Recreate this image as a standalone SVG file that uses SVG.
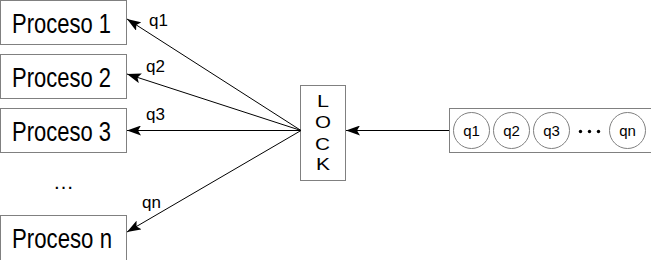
<svg xmlns="http://www.w3.org/2000/svg" width="651" height="260" viewBox="0 0 651 260">
  <style>
    .box { fill: #ffffff; stroke: #808080; stroke-width: 1; }
    .proc { font-family: "Liberation Sans", Arial, sans-serif; font-size: 28px; fill: #000; }
    .lbl { font-family: "Liberation Sans", Arial, sans-serif; font-size: 17px; fill: #000; }
    .dots { font-family: "Liberation Sans", Arial, sans-serif; font-size: 21px; fill: #000; }
    .lock { font-family: "Liberation Sans", Arial, sans-serif; font-size: 17px; fill: #000; }
    .qtxt { font-family: "Liberation Sans", Arial, sans-serif; font-size: 15px; fill: #000; text-anchor: middle; }
    .item { fill: #ffffff; stroke: #808080; stroke-width: 1; }
    .edge { stroke: #000; stroke-width: 1; fill: none; marker-end: url(#arrow); }
  </style>
  <defs>
    <marker id="arrow" viewBox="0 0 14 10" refX="14" refY="5" markerWidth="14" markerHeight="10" markerUnits="userSpaceOnUse" orient="auto">
      <path d="M0,0 L14,5 L0,10 L3,5 z" fill="#000"/>
    </marker>
  </defs>

  <!-- process boxes -->
  <g id="proceso1">
    <rect class="box" x="0.5" y="0.5" width="126" height="44"/>
    <text class="proc" x="12" y="33" textLength="99" lengthAdjust="spacingAndGlyphs">Proceso 1</text>
  </g>
  <g id="proceso2">
    <rect class="box" x="0.5" y="54.5" width="126" height="44"/>
    <text class="proc" x="12" y="87" textLength="99" lengthAdjust="spacingAndGlyphs">Proceso 2</text>
  </g>
  <g id="proceso3">
    <rect class="box" x="0.5" y="108.5" width="126" height="44"/>
    <text class="proc" x="12" y="141" textLength="99" lengthAdjust="spacingAndGlyphs">Proceso 3</text>
  </g>
  <g id="ellipsis">
    <text class="dots" x="53" y="189" textLength="21" lengthAdjust="spacingAndGlyphs">…</text>
  </g>
  <g id="proceson">
    <rect class="box" x="0.5" y="215.5" width="126" height="48"/>
    <text class="proc" x="12" y="248" textLength="100" lengthAdjust="spacingAndGlyphs">Proceso n</text>
  </g>

  <!-- lock -->
  <g id="lock">
    <rect class="box" x="300.5" y="85.5" width="45" height="95"/>
    <text class="lock" x="317" y="107" textLength="12" lengthAdjust="spacingAndGlyphs">L</text>
    <text class="lock" x="315" y="128" textLength="16" lengthAdjust="spacingAndGlyphs">O</text>
    <text class="lock" x="315" y="150" textLength="15" lengthAdjust="spacingAndGlyphs">C</text>
    <text class="lock" x="316" y="170" textLength="14" lengthAdjust="spacingAndGlyphs">K</text>
  </g>

  <!-- queue -->
  <g id="queue">
    <rect class="box" x="449.5" y="108.5" width="220" height="44"/>
    <circle class="item" cx="471.5" cy="130.5" r="18"/>
    <text class="qtxt" x="471.5" y="136">q1</text>
    <circle class="item" cx="511.5" cy="130.5" r="18"/>
    <text class="qtxt" x="511.5" y="136">q2</text>
    <circle class="item" cx="551.5" cy="130.5" r="18"/>
    <text class="qtxt" x="551.5" y="136">q3</text>
    <circle cx="580.5" cy="131.5" r="1.7" fill="#000"/>
    <circle cx="589.5" cy="131.5" r="1.7" fill="#000"/>
    <circle cx="598.5" cy="131.5" r="1.7" fill="#000"/>
    <circle class="item" cx="627.5" cy="130.5" r="18"/>
    <text class="qtxt" x="627.5" y="136">qn</text>
  </g>

  <!-- connectors -->
  <g id="connectors">
    <line class="edge" x1="449" y1="130.5" x2="346" y2="130.5"/>
    <line class="edge" x1="301" y1="130.5" x2="127" y2="19"/>
    <line class="edge" x1="301" y1="130.5" x2="127" y2="74"/>
    <line class="edge" x1="301" y1="130.5" x2="127" y2="130.5"/>
    <line class="edge" x1="301" y1="130.5" x2="127" y2="232"/>
    <text class="lbl" x="149" y="26">q1</text>
    <text class="lbl" x="146" y="72">q2</text>
    <text class="lbl" x="146" y="120">q3</text>
    <text class="lbl" x="142" y="208">qn</text>
  </g>
</svg>
